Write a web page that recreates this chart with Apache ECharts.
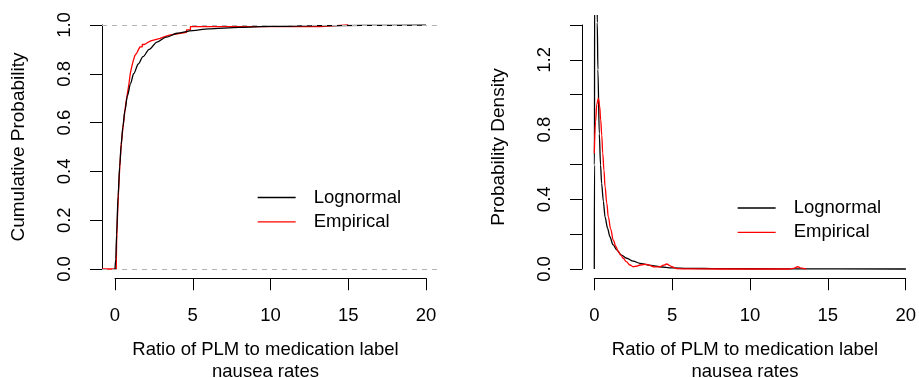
<!DOCTYPE html>
<html>
<head>
<meta charset="utf-8">
<script src="https://cdn.jsdelivr.net/npm/echarts@6/dist/echarts.min.js"></script>
<style>
  html, body { margin: 0; padding: 0; background: #fff; }
  #chart { width: 919px; height: 378px; }
</style>
</head>
<body>
<div id="chart"></div>
<script>
// left panel: cumulative probability, [x, F(x)]
const lognormalCdf = [
  [0, 0], [0.05, 0.04], [0.1, 0.14], [0.2, 0.30], [0.3, 0.42], [0.4, 0.51],
  [0.5, 0.58], [0.64, 0.65], [0.8, 0.71], [1.0, 0.76], [1.2, 0.80], [1.5, 0.84],
  [1.8, 0.87], [2.2, 0.90], [2.7, 0.93], [3.3, 0.95], [4.0, 0.966], [5.0, 0.977],
  [6.0, 0.984], [8.0, 0.99], [10, 0.994], [13, 0.997], [16, 0.998], [20, 0.999]
];
const empiricalCdf = [
  [-0.84, 0], [0.08, 0], [0.1, 0.1], [0.15, 0.2], [0.2, 0.28], [0.25, 0.35],
  [0.3, 0.41], [0.35, 0.46], [0.4, 0.51], [0.48, 0.56], [0.55, 0.6], [0.62, 0.64],
  [0.7, 0.68], [0.8, 0.72], [0.9, 0.76], [0.98, 0.8], [1.08, 0.83], [1.18, 0.855],
  [1.28, 0.875], [1.4, 0.885], [1.5, 0.898], [1.6, 0.91], [1.75, 0.92], [1.9, 0.928],
  [2.1, 0.935], [2.3, 0.94], [2.6, 0.945], [2.9, 0.952], [3.2, 0.958], [3.5, 0.966],
  [4.2, 0.97], [4.6, 0.98], [4.85, 0.993], [13.2, 1.0], [15.0, 1.0]
];
// right panel: probability density, [x, f(x)]
const lognormalPdf = [
  [0, 0], [0.01, 0.6], [0.02, 1.6], [0.05, 3.0], [0.08, 2.7], [0.12, 2.1],
  [0.16, 1.7], [0.19, 1.42], [0.23, 1.15], [0.32, 0.78], [0.4, 0.6], [0.47, 0.494],
  [0.58, 0.39], [0.69, 0.30], [0.85, 0.235], [1.0, 0.186], [1.2, 0.14], [1.44, 0.11],
  [1.75, 0.08], [2.08, 0.062], [2.5, 0.045], [2.93, 0.033], [3.5, 0.022], [4.2, 0.013],
  [5.0, 0.007], [6.0, 0.004], [8.0, 0.002], [12, 0.001], [20, 0]
];
const empiricalPdf = [
  [0, 0.667], [0.08, 0.85], [0.16, 0.95], [0.26, 0.984], [0.34, 0.94], [0.41, 0.86],
  [0.48, 0.77], [0.54, 0.667], [0.62, 0.57], [0.69, 0.474], [0.8, 0.38], [0.9, 0.30],
  [1.05, 0.23], [1.22, 0.167], [1.38, 0.13], [1.54, 0.10], [1.7, 0.08], [1.86, 0.062],
  [2.05, 0.042], [2.29, 0.023], [2.5, 0.013], [2.7, 0.016], [2.93, 0.023], [3.15, 0.026],
  [3.36, 0.027], [3.6, 0.02], [3.79, 0.013], [4.0, 0.012], [4.2, 0.013], [4.45, 0.022],
  [4.65, 0.029], [4.85, 0.02], [4.97, 0.013], [5.3, 0.002], [6, 0.0005], [8, 0],
  [12.5, 0], [12.8, 0.004], [13.05, 0.013], [13.3, 0.005], [13.6, 0]
];
const xTicks = { min: 0, max: 20, interval: 5 };
const cdfTicks = { min: 0, max: 1, interval: 0.2 };
const pdfTicks = { min: 0, max: 1.4, interval: 0.2 };
const pdfShownLabels = ['0.0', '0.4', '0.8', '1.2'];

const FONT = '"Liberation Sans", Arial, Helvetica, sans-serif';
const xName = 'Ratio of PLM to medication label\nnausea rates';

const chart = echarts.init(document.getElementById('chart'), null, { renderer: 'canvas' });

function visibleX(grid) {
    return {
        gridIndex: grid, type: 'value',
        min: xTicks.min, max: xTicks.max, interval: xTicks.interval,
        splitLine: { show: false },
        axisLine: { show: true, lineStyle: { color: '#000', width: 1 } },
        axisTick: { show: true, length: 12, lineStyle: { color: '#000', width: 1 } },
        axisLabel: { margin: 28, color: '#000', fontSize: 18.5, fontFamily: FONT },
        name: xName, nameLocation: 'middle', nameGap: 61,
        nameTextStyle: { color: '#000', fontSize: 18.5, fontFamily: FONT, lineHeight: 22, padding: [0, 10, 0, 0] }
    };
}
function visibleY(grid, ticks, name, fmt) {
    return {
        gridIndex: grid, type: 'value',
        min: ticks.min, max: ticks.max, interval: ticks.interval,
        splitLine: { show: false },
        axisLine: { show: true, lineStyle: { color: '#000', width: 1 } },
        axisTick: { show: true, length: 12, lineStyle: { color: '#000', width: 1 } },
        axisLabel: { margin: 28, rotate: 90, color: '#000', fontSize: 18.5, fontFamily: FONT, formatter: fmt },
        name: name, nameLocation: 'middle', nameGap: 74, nameRotate: 90,
        nameTextStyle: { color: '#000', fontSize: 19, fontFamily: FONT }
    };
}
function hidden(grid, min, max) {
    return { gridIndex: grid, type: 'value', min: min, max: max, show: false, splitLine: { show: false } };
}
function legendAt(left, top) {
    return {
        orient: 'vertical', left: left, top: top, padding: 0,
        itemWidth: 38, itemHeight: 14, itemGap: 5.4,
        itemStyle: { opacity: 0 },
        lineStyle: { width: 1.3 },
        textStyle: { color: '#000', fontSize: 18.5, lineHeight: 14, fontFamily: FONT, padding: [0, 0, 0, 13] },
        data: ['Lognormal', 'Empirical']
    };
}

const option = {
    animation: false,
    backgroundColor: '#fff',
    grid: [
        { left: 102, top: 15.2, width: 336, height: 263.8 },   // left data
        { left: 115, top: 278, width: 311, height: 1 },         // left x axis
        { left: 102, top: 25, width: 1, height: 244 },          // left y axis
        { left: 582, top: 15.7, width: 328.6, height: 263.3 },  // right data
        { left: 594.3, top: 278, width: 311.6, height: 1 },     // right x axis
        { left: 582, top: 25, width: 1, height: 244 }           // right y axis
    ],
    xAxis: [
        hidden(0, -0.836, 20.77),
        visibleX(1),
        hidden(2, 0, 1),
        hidden(3, -0.79, 20.3),
        visibleX(4),
        hidden(5, 0, 1)
    ],
    yAxis: [
        hidden(0, -0.041, 1.04),
        hidden(1, 0, 1),
        visibleY(2, cdfTicks, 'Cumulative Probability', v => v.toFixed(1)),
        hidden(3, -0.0576, 1.46),
        hidden(4, 0, 1),
        visibleY(5, pdfTicks, 'Probability Density', v => {
            const s = v.toFixed(1);
            return pdfShownLabels.indexOf(s) >= 0 ? s : '';
        })
    ],
    legend: [legendAt(257, 188), legendAt(737, 198.5)],
    series: [
        {
            name: 'Lognormal', type: 'line', xAxisIndex: 0, yAxisIndex: 0,
            data: lognormalCdf, symbol: 'none', smooth: 0.3, smoothMonotone: 'x',
            lineStyle: { color: '#000', width: 1.3 }, itemStyle: { color: '#000' }, z: 3
        },
        {
            name: 'Empirical', type: 'line', xAxisIndex: 0, yAxisIndex: 0,
            data: empiricalCdf, symbol: 'none', step: 'end',
            lineStyle: { color: '#ff0000', width: 1.3 }, itemStyle: { color: '#ff0000' }, z: 2,
            markLine: {
                silent: true, symbol: 'none', label: { show: false },
                lineStyle: { color: '#b3b3b3', type: [5, 5], width: 1 },
                data: [{ yAxis: 0 }, { yAxis: 1 }]
            }
        },
        {
            name: 'Lognormal', type: 'line', xAxisIndex: 3, yAxisIndex: 3,
            data: lognormalPdf, symbol: 'none', smooth: 0.3, smoothMonotone: 'x',
            lineStyle: { color: '#000', width: 1.3 }, itemStyle: { color: '#000' }, z: 3
        },
        {
            name: 'Empirical', type: 'line', xAxisIndex: 3, yAxisIndex: 3,
            data: empiricalPdf, symbol: 'none', smooth: 0.4, smoothMonotone: 'x',
            lineStyle: { color: '#ff0000', width: 1.3 }, itemStyle: { color: '#ff0000' }, z: 4
        }
    ]
};
chart.setOption(option);
</script>
</body>
</html>
